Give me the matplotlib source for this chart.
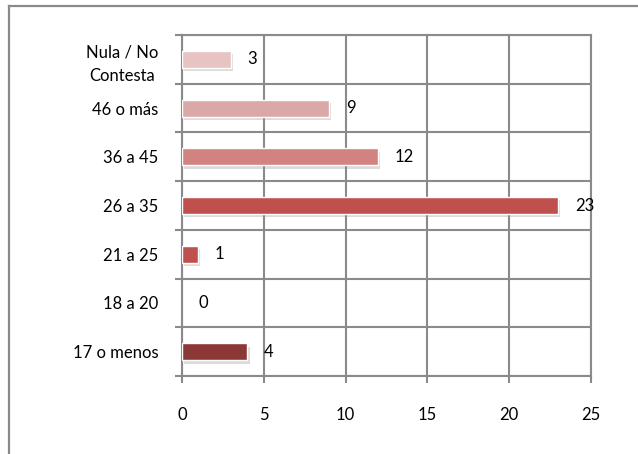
import matplotlib
matplotlib.use("Agg")
import matplotlib.pyplot as plt
import matplotlib.patheffects as pe
from matplotlib.lines import Line2D

categories = ["17 o menos", "18 a 20", "21 a 25", "26 a 35", "36 a 45", "46 o más", "Nula / No\nContesta"]
values = [4, 0, 1, 23, 12, 9, 3]
bar_colors = ["#8C3836", "#C0504D", "#C0504D", "#C0504D", "#D08381", "#DAA8A7", "#E7C3C3"]
x_ticks = [0, 5, 10, 15, 20, 25]

GRID = "#8a8a8a"
W, H, DPI = 638, 454, 100
FS = 12

plt.rcParams["font.family"] = ["Lato", "DejaVu Sans"]

fig = plt.figure(figsize=(W / DPI, H / DPI), dpi=DPI)
ax = fig.add_axes([182 / W, 1 - 376 / H, (591 - 182) / W, (376 - 35) / H])

# outer chart frame (only left and top edges show inside the image)
fig.add_artist(Line2D([9 / W, 9 / W], [0, 1 - 6 / H], color=GRID, lw=1.6, transform=fig.transFigure))
fig.add_artist(Line2D([9 / W, 1], [1 - 6 / H, 1 - 6 / H], color=GRID, lw=1.6, transform=fig.transFigure))

pos = range(len(categories))
bars = ax.barh(pos, values, height=0.35, color=bar_colors, edgecolor="white", linewidth=1.0, zorder=3)
for b, v in zip(bars, values):
    if v == 0:
        b.set_linewidth(0)
        continue
    b.set_path_effects([pe.SimplePatchShadow(offset=(1.5, -2.5), shadow_rgbFace="#999999", alpha=0.35), pe.Normal()])

# value labels, just to the right of each bar
for p, v in zip(pos, values):
    ax.annotate(str(v), (v, p), xytext=(12, 0), textcoords="offset points",
                va="center", ha="left", fontsize=FS, color="black", zorder=4)

ax.set_xlim(0, 25)
ax.set_ylim(-0.5, len(categories) - 0.5)
ax.set_xticks(x_ticks)
ax.set_xticklabels([str(t) for t in x_ticks], fontsize=FS)
ax.tick_params(axis="x", length=5, width=1.5, color=GRID, pad=17)

# row boundaries as major ticks (grid + small tick marks), labels on minor ticks
ax.set_yticks([i - 0.5 for i in range(len(categories) + 1)])
ax.set_yticklabels([])
ax.tick_params(axis="y", which="major", length=5, width=1.5, color=GRID)
ax.set_yticks(list(pos), minor=True)
ax.set_yticklabels(categories, minor=True, fontsize=FS, multialignment="center", linespacing=1.55)
ax.tick_params(axis="y", which="minor", length=0, pad=17)

ax.grid(True, which="major", color=GRID, linewidth=1.5, zorder=0)
ax.set_axisbelow(True)
for s in ax.spines.values():
    s.set_color(GRID)
    s.set_linewidth(1.5)

fig.savefig("out.png", dpi=DPI, facecolor="white")
